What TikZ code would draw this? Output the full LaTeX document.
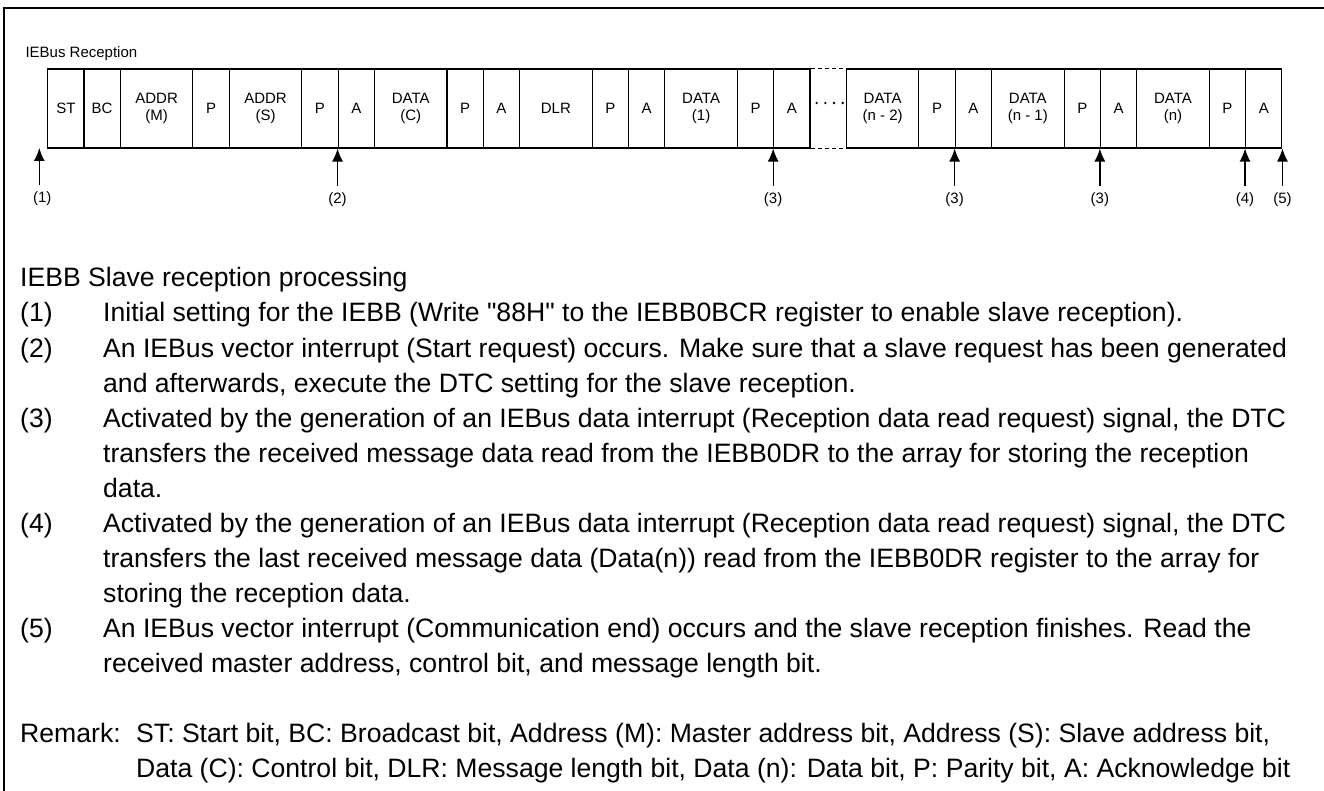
\documentclass[tikz,border=0pt]{standalone}
\usepackage{fontspec}
\newfontfamily\arialf{Liberation Sans}
\usetikzlibrary{arrows.meta}
\begin{document}
\begin{tikzpicture}[x=1pt,y=-1pt,
  cell/.style={draw, line width=1.1pt, minimum height=79pt, inner sep=0pt,
    font=\arialf\fontsize{15}{17}\selectfont, align=center},
  small/.style={font=\arialf\fontsize{15}{18}\selectfont, inner sep=0pt},
  body/.style={font=\arialf\fontsize{26.6}{34}\selectfont, inner sep=0pt, anchor=base west},
  arr/.style={line width=1.3pt, -{Latex[length=13pt,width=11pt]}},
  gapline/.style={line width=1.1pt, dash pattern=on 4pt off 3pt},
  w1/.style={minimum width=36.3pt},
  w2/.style={minimum width=72.6pt}
]
\useasboundingbox (0,0) rectangle (1324,791);
% frame
\draw[line width=2.4pt] (4,791) -- (4,8) -- (1324,8);
% header
\node[small, anchor=base west] (hdr) at (25.3,58) {IEBus Reception};
% cells (unit 36.3, origin 47.7, centre y 108.5)
\node[cell,w1] (c1)  at ({47.7+36.3*0.5},108.5)  {ST};
\node[cell,w1] (c2)  at ({47.7+36.3*1.5},108.5)  {BC};
\node[cell,w2] (c3)  at ({47.7+36.3*3},108.5)    {ADDR\\(M)};
\node[cell,w1] (c4)  at ({47.7+36.3*4.5},108.5)  {P};
\node[cell,w2] (c5)  at ({47.7+36.3*6},108.5)    {ADDR\\(S)};
\node[cell,w1] (c6)  at ({47.7+36.3*7.5},108.5)  {P};
\node[cell,w1] (c7)  at ({47.7+36.3*8.5},108.5)  {A};
\node[cell,w2] (c8)  at ({47.7+36.3*10},108.5)   {DATA\\(C)};
\node[cell,w1] (c9)  at ({47.7+36.3*11.5},108.5) {P};
\node[cell,w1] (c10) at ({47.7+36.3*12.5},108.5) {A};
\node[cell,w2] (c11) at ({47.7+36.3*14},108.5)   {DLR};
\node[cell,w1] (c12) at ({47.7+36.3*15.5},108.5) {P};
\node[cell,w1] (c13) at ({47.7+36.3*16.5},108.5) {A};
\node[cell,w2] (c14) at ({47.7+36.3*18},108.5)   {DATA\\(1)};
\node[cell,w1] (c15) at ({47.7+36.3*19.5},108.5) {P};
\node[cell,w1] (c16) at ({47.7+36.3*20.5},108.5) {A};
\node[cell,w2] (c17) at ({47.7+36.3*23},108.5)   {DATA\\(n - 2)};
\node[cell,w1] (c18) at ({47.7+36.3*24.5},108.5) {P};
\node[cell,w1] (c19) at ({47.7+36.3*25.5},108.5) {A};
\node[cell,w2] (c20) at ({47.7+36.3*27},108.5)   {DATA\\(n - 1)};
\node[cell,w1] (c21) at ({47.7+36.3*28.5},108.5) {P};
\node[cell,w1] (c22) at ({47.7+36.3*29.5},108.5) {A};
\node[cell,w2] (c23) at ({47.7+36.3*31},108.5)   {DATA\\(n)};
\node[cell,w1] (c24) at ({47.7+36.3*32.5},108.5) {P};
\node[cell,w1] (c25) at ({47.7+36.3*33.5},108.5) {A};
% omitted part
\draw[gapline] (c16.north east) -- (c17.north west);
\draw[gapline] (c16.south east) -- (c17.south west);
\foreach \i in {0,1,2,3} \fill ({816.6+8.7*\i},103) circle (1.3pt);
% arrows
\coordinate (t1) at (39.3,148);
\coordinate (b1) at (39.3,185);
\coordinate (b2) at ([yshift=-37pt]c7.south west);
\coordinate (b3) at ([yshift=-37pt]c16.south west);
\coordinate (b4) at ([yshift=-37pt]c19.south west);
\coordinate (b5) at ([yshift=-37pt]c22.south west);
\coordinate (b6) at ([yshift=-37pt]c25.south west);
\coordinate (b7) at ([yshift=-37pt]c25.south east);
\draw[arr] (b1) -- (t1);
\draw[arr] (b2) -- (c7.south west);
\draw[arr] (b3) -- (c16.south west);
\draw[arr] (b4) -- (c19.south west);
\draw[arr] (b5) -- (c22.south west);
\draw[arr] (b6) -- (c25.south west);
\draw[arr] (b7) -- (c25.south east);
\node[small] (l1) at ([xshift=3pt,yshift=-14pt]b1) {(1)};
\node[small] (l2) at ([yshift=-14pt]b2) {(2)};
\node[small] (l3) at ([yshift=-14pt]b3) {(3)};
\node[small] (l4) at ([yshift=-14pt]b4) {(3)};
\node[small] (l5) at ([yshift=-14pt]b5) {(3)};
\node[small] (l6) at ([yshift=-14pt]b6) {(4)};
\node[small] (l7) at ([yshift=-14pt]b7) {(5)};
% explanatory text
\node[body] (t0) at (20,287) {IEBB Slave reception processing};
\node[body] (n1) at (20,322) {(1)};
\node[body] (x1) at (103,322) {Initial setting for the IEBB (Write "88H" to the IEBB0BCR register to enable slave reception).};
\node[body] (n2) at (20,357) {(2)};
\node[body] (x2) at (103,357) {An IEBus vector interrupt (Start request) occurs. Make sure that a slave request has been generated};
\node[body] (x3) at (103,392) {and afterwards, execute the DTC setting for the slave reception.};
\node[body] (n3) at (20,427) {(3)};
\node[body] (x4) at (103,427) {Activated by the generation of an IEBus data interrupt (Reception data read request) signal, the DTC};
\node[body] (x5) at (103,462) {transfers the received message data read from the IEBB0DR to the array for storing the reception};
\node[body] (x6) at (103,497) {data.};
\node[body] (n4) at (20,532) {(4)};
\node[body] (x7) at (103,532) {Activated by the generation of an IEBus data interrupt (Reception data read request) signal, the DTC};
\node[body] (x8) at (103,567) {transfers the last received message data (Data(n)) read from the IEBB0DR register to the array for};
\node[body] (x9) at (103,602) {storing the reception data.};
\node[body] (n5) at (20,637) {(5)};
\node[body] (x10) at (103,637) {An IEBus vector interrupt (Communication end) occurs and the slave reception finishes. Read the};
\node[body] (x11) at (103,672) {received master address, control bit, and message length bit.};
\node[body] (rm) at (20,742) {Remark:};
\node[body] (r1) at (136,742) {ST: Start bit, BC: Broadcast bit, Address (M): Master address bit, Address (S): Slave address bit,};
\node[body] (r2) at (136,777) {Data (C): Control bit, DLR: Message length bit, Data (n): Data bit, P: Parity bit, A: Acknowledge bit};
\end{tikzpicture}
\end{document}
